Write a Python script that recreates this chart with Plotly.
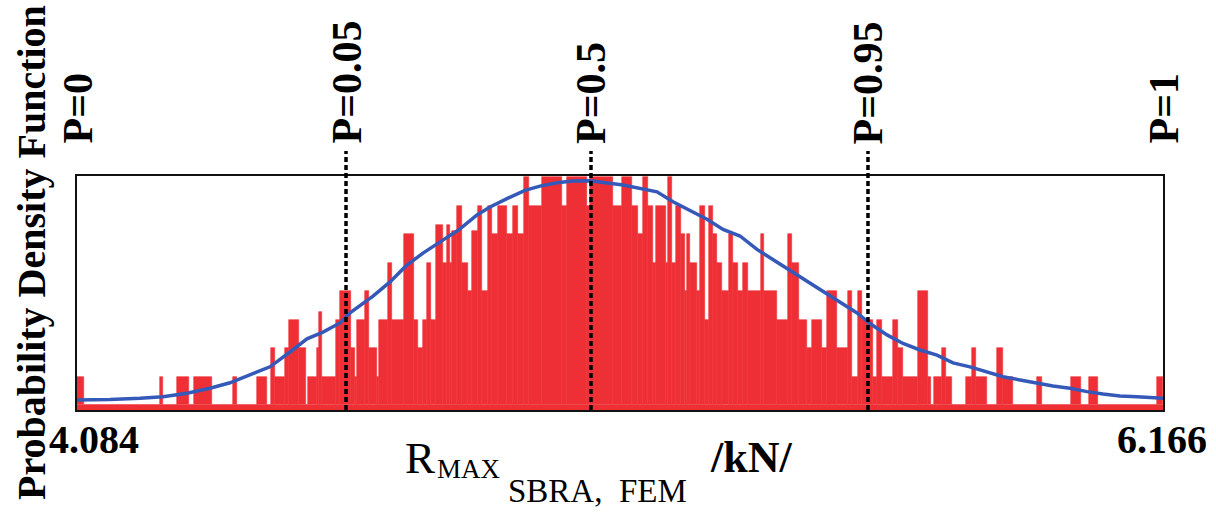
import numpy as np
import plotly.graph_objects as go

# ---- data ----
x_min, x_max = 4.084, 6.166

# histogram: bin edges (kN) and bar heights (frequency, arbitrary units)
bin_edges = [
    4.084, 4.0974, 4.2431, 4.2489, 4.2757, 4.2987, 4.3083, 4.3428, 4.3831, 4.3907,
    4.4291, 4.4483, 4.4559, 4.4636, 4.4828, 4.4904, 4.5096, 4.5230, 4.5269, 4.5441,
    4.5470, 4.5537, 4.5805, 4.5882, 4.6093, 4.6170, 4.6208, 4.6361, 4.6438, 4.6591,
    4.6630, 4.6802, 4.6879, 4.7109, 4.7301, 4.7377, 4.7464, 4.7544, 4.7621, 4.7722,
    4.7857, 4.7928, 4.7991, 4.8035, 4.8119, 4.8227, 4.8342, 4.8407, 4.8533, 4.8610,
    4.8725, 4.8790, 4.8917, 4.9089, 4.9204, 4.9300, 4.9410, 4.9511, 4.9749, 5.0132,
    5.0228, 5.0612, 5.0675, 5.1122, 5.1283, 5.1474, 5.1601, 5.1697, 5.1781, 5.1888,
    5.1934, 5.2132, 5.2164, 5.2241, 5.2324, 5.2414, 5.2496, 5.2540, 5.2592, 5.2732,
    5.2784, 5.2880, 5.2956, 5.3039, 5.3115, 5.3200, 5.3345, 5.3422, 5.3518, 5.3614,
    5.3710, 5.3947, 5.4016, 5.4254, 5.4477, 5.4553, 5.4682, 5.4841, 5.4925, 5.5117,
    5.5213, 5.5416, 5.5627, 5.5704, 5.5807, 5.5884, 5.6095, 5.6183, 5.6279, 5.6490,
    5.6585, 5.6681, 5.6969, 5.7161, 5.7212, 5.7276, 5.7418, 5.7500, 5.7609, 5.7883,
    5.7993, 5.8075, 5.8292, 5.8483, 5.8598, 5.8790, 5.9239, 5.9335, 5.9896, 6.0082,
    6.0241, 6.0420, 6.1551, 6.166,
]
bin_counts = [
    1, 0, 1, 0, 1, 0, 1, 0, 1, 0,
    1, 0, 2, 1, 2, 3, 2, 0, 1, 2,
    3.25, 1, 3, 4, 2, 1, 3, 4, 2, 1,
    3, 5, 3, 6, 3, 2, 3, 5, 3, 6.3,
    5, 6.3, 5, 6.1, 7, 5, 4, 6.1, 7, 4,
    7, 6, 7, 6, 7, 6, 8, 7, 8, 7,
    8, 7, 8, 7, 8, 7, 6, 8, 7, 5,
    7, 5, 8, 5, 7, 6, 4, 6, 5, 4,
    7, 3, 7, 6, 5, 4, 6, 5, 4, 5,
    4, 6, 4, 3, 6, 5, 3, 2, 3, 2,
    4, 2, 4, 1, 4, 3, 1, 3, 1, 3,
    2, 1, 4, 1, 0, 1, 2, 1, 0, 1,
    2, 1, 0, 2, 1, 0, 1, 0, 1, 0,
    1, 0, 1,
]

# fitted probability density curve (same units as the bars)
curve_x = [
    4.084, 4.1473, 4.2048, 4.2489, 4.2949, 4.3390, 4.3773, 4.4157, 4.4540, 4.4924,
    4.5249, 4.5556, 4.5882, 4.6074, 4.6515, 4.6841, 4.7147, 4.7473, 4.7857, 4.8183,
    4.8509, 4.8758, 4.9103, 4.9429, 4.9716, 5.0042, 5.0349, 5.0675, 5.1308, 5.1959,
    5.2266, 5.2592, 5.2918, 5.3225, 5.3551, 5.3876, 5.4260, 5.4643, 5.5084, 5.5468,
    5.5794, 5.6043, 5.6369, 5.6676, 5.7001, 5.7327, 5.7634, 5.7960, 5.8286, 5.8593,
    5.8918, 5.9244, 5.9551, 5.9877, 6.0203, 6.0510, 6.0836, 6.1162, 6.1468, 6.166,
]
curve_y = [
    0.175, 0.19, 0.235, 0.29, 0.41, 0.586, 0.78, 1.05, 1.34, 1.86,
    2.32, 2.56, 2.88, 3.23, 3.82, 4.32, 4.88, 5.33, 5.79, 6.18,
    6.67, 6.95, 7.26, 7.53, 7.68, 7.80, 7.86, 7.87, 7.72, 7.48,
    7.13, 6.84, 6.52, 6.16, 5.93, 5.46, 5.02, 4.56, 4.07, 3.61,
    3.23, 2.86, 2.46, 2.16, 1.93, 1.75, 1.48, 1.34, 1.17, 0.99,
    0.88, 0.76, 0.67, 0.59, 0.47, 0.39, 0.32, 0.29, 0.26, 0.235,
]

# probability markers
p_labels = ["P=0", "P=0.05", "P=0.5", "P=0.95", "P=1"]
p_values = [4.084, 4.5997, 5.0694, 5.6004, 6.166]
p_dashed = [False, True, True, True, False]

# ---- figure ----
RED = "#EE3036"
BLUE = "#3559B8"
FONT = "Liberation Serif"

W, H = 1216, 513
L, R, T, B = 77, 53, 176, 103
PW, PH = W - L - R, H - T - B


def px_x(px):
    return (px - L) / PW


def px_y(py):
    return (H - B - py) / PH


edges = np.array(bin_edges)
widths = np.diff(edges)

fig = go.Figure()
fig.add_trace(go.Bar(
    x=edges[:-1], y=bin_counts, width=widths, offset=0,
    marker=dict(color=RED, line=dict(color=RED, width=0.6)),
    showlegend=False, hoverinfo="skip",
))
fig.add_trace(go.Scatter(
    x=curve_x, y=curve_y, mode="lines",
    line=dict(color=BLUE, width=3.5),
    showlegend=False, hoverinfo="skip",
))

shapes = [
    dict(type="rect", xref="paper", yref="y", x0=0, x1=1, y0=-0.175, y1=0,
         fillcolor=RED, line=dict(width=0), layer="below"),
]
annotations = []
for lab, val, dashed in zip(p_labels, p_values, p_dashed):
    if dashed:
        shapes.append(dict(type="line", xref="x", yref="paper", x0=val, x1=val,
                           y0=0, y1=px_y(151),
                           line=dict(color="black", width=3.5, dash="5px,3px"),
                           layer="above"))
    annotations.append(dict(
        x=val, xref="x", y=px_y(146), yref="paper", text=lab, textangle=-90,
        showarrow=False, xanchor="center", yanchor="bottom",
        font=dict(family=FONT, size=42, color="black", weight="bold"),
    ))

# end-value labels
annotations.append(dict(x=px_x(94), y=px_y(439), xref="paper", yref="paper",
                        text="<b>4.084</b>", showarrow=False,
                        xanchor="center", yanchor="middle",
                        font=dict(family=FONT, size=40, color="black")))
annotations.append(dict(x=px_x(1162), y=px_y(439), xref="paper", yref="paper",
                        text="<b>6.166</b>", showarrow=False,
                        xanchor="center", yanchor="middle",
                        font=dict(family=FONT, size=40, color="black")))

# axis title pieces
annotations.append(dict(x=px_x(420), y=px_y(458), xref="paper", yref="paper",
                        text="R", showarrow=False, xanchor="center", yanchor="middle",
                        borderpad=0,
                        font=dict(family=FONT, size=45, color="black")))
annotations.append(dict(x=px_x(469), y=px_y(469), xref="paper", yref="paper",
                        text="MAX", showarrow=False, xanchor="center", yanchor="middle",
                        borderpad=0,
                        font=dict(family=FONT, size=27, color="black")))
annotations.append(dict(x=px_x(597), y=px_y(491), xref="paper", yref="paper",
                        text="SBRA,&nbsp; FEM", showarrow=False, xanchor="center", yanchor="middle",
                        borderpad=0,
                        font=dict(family=FONT, size=33, color="black")))
annotations.append(dict(x=px_x(751), y=px_y(457), xref="paper", yref="paper",
                        text="<b>/kN/</b>", showarrow=False, xanchor="center", yanchor="middle",
                        borderpad=0,
                        font=dict(family=FONT, size=44, color="black")))

# y-axis title
annotations.append(dict(x=px_x(31), y=px_y(253), xref="paper", yref="paper",
                        text="<b>Probability Density Function</b>", textangle=-90,
                        showarrow=False, xanchor="center", yanchor="middle",
                        font=dict(family=FONT, size=40, color="black")))

fig.update_layout(
    width=W, height=H,
    margin=dict(l=L, r=R, t=T, b=B, pad=0),
    paper_bgcolor="white", plot_bgcolor="white",
    bargap=0,
    shapes=shapes, annotations=annotations,
    xaxis=dict(range=[x_min, x_max], showticklabels=False, ticks="",
               showgrid=False, zeroline=False, showline=True, mirror=True,
               linecolor="#111111", linewidth=1.5),
    yaxis=dict(range=[-0.175, 8.035], showticklabels=False, ticks="",
               showgrid=False, zeroline=False, showline=True, mirror=True,
               linecolor="#111111", linewidth=1.5),
)

fig.write_html("out.html")
